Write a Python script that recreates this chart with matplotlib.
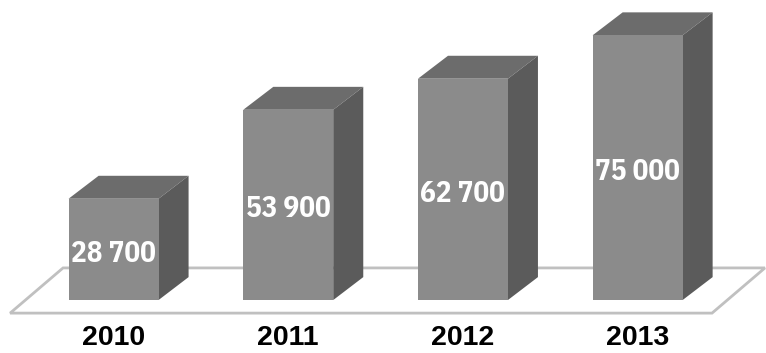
import matplotlib.pyplot as plt
from matplotlib.patches import Polygon

years = ['2010', '2011', '2012', '2013']
values = [28700, 53900, 62700, 75000]
value_labels = ['28 700', '53 900', '62 700', '75 000']

# look of the fake 3d boxes
front_col = '#8b8b8b'
top_col = '#6c6c6c'
side_col = '#5b5b5b'
width = 0.515
dx = 0.172     # depth offset in x units
dy = 6500      # depth offset in value units

narrow = ['IBM Plex Sans Condensed', 'DejaVu Sans']
wide = ['Liberation Sans', 'DejaVu Sans']

fig = plt.figure(figsize=(7.66, 3.53), dpi=100)
ax = fig.add_axes([0, 0, 1, 1])
ax.set_xlim(-0.65, 3.735)
ax.set_ylim(-15000, 85000)
ax.axis('off')

# floor
floor = Polygon([(-0.592, -3700), (3.426, -3700), (3.729, 9100), (-0.289, 9100)],
                closed=True, facecolor='white', edgecolor='#c0c0c0', lw=2, zorder=1)
ax.add_patch(floor)

x = list(range(len(values)))
ax.bar(x, values, width=width, color=front_col, zorder=3)

for i, v in enumerate(values):
    l = i - width / 2
    r = i + width / 2
    top = Polygon([(l, v), (r, v), (r + dx, v + dy), (l + dx, v + dy)],
                  closed=True, facecolor=top_col, edgecolor='none', zorder=2)
    side = Polygon([(r, 0), (r + dx, dy), (r + dx, v + dy), (r, v)],
                   closed=True, facecolor=side_col, edgecolor='none', zorder=2)
    ax.add_patch(top)
    ax.add_patch(side)
    ax.text(i, v / 2 - 1200, value_labels[i], ha='center', va='center', color='white',
            fontsize=21, fontweight='bold', family=narrow, zorder=4)
    ax.text(i, -10800, years[i], ha='center', va='center', color='black',
            fontsize=20.5, fontweight='bold', family=wide, zorder=4)

fig.savefig('out.png', dpi=100)
